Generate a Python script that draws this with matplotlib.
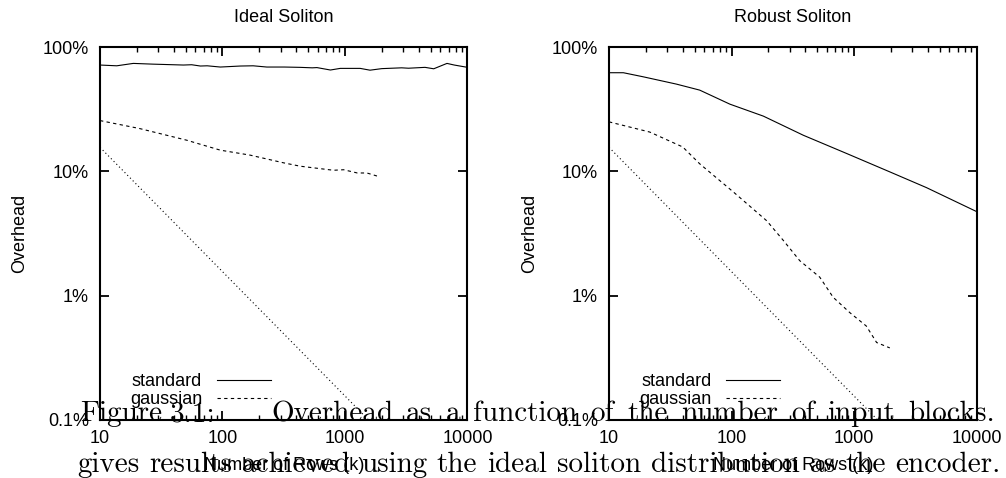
import numpy as np
import matplotlib.pyplot as plt
from matplotlib.transforms import IdentityTransform
from matplotlib.ticker import FixedLocator, LogLocator, NullFormatter

plt.rcParams['font.family'] = ['Liberation Sans', 'DejaVu Sans']

# ---- data (overhead as a fraction) ----
ideal_std_k = [10, 13.7, 18.7, 27, 36, 48, 56, 66, 75, 96, 140, 178, 230,
               320, 430, 540, 590, 760, 915, 1330, 1600, 2000, 2900,
               3300, 4500, 5300, 6800, 7800, 10000]
ideal_std_v = [0.716, 0.706, 0.738, 0.728, 0.722, 0.716, 0.720, 0.703,
               0.706, 0.690, 0.703, 0.706, 0.690, 0.690, 0.686, 0.680,
               0.683, 0.653, 0.673, 0.673, 0.651, 0.670, 0.680, 0.675,
               0.686, 0.668, 0.738, 0.716, 0.686]
ideal_gau_k = [10, 21, 31, 51, 66, 96, 168, 316, 430, 805, 975, 1260, 1510, 1870]
ideal_gau_v = [0.256, 0.221, 0.201, 0.178, 0.165, 0.148, 0.135, 0.117,
               0.110, 0.102, 0.103, 0.097, 0.097, 0.091]

robust_std_k = [10, 13.1, 19, 35.5, 55, 97, 182, 386, 873, 1960, 3900, 10000]
robust_std_v = [0.621, 0.621, 0.576, 0.503, 0.45, 0.347, 0.278, 0.195,
                0.139, 0.099, 0.074, 0.0475]
robust_gau_k = [10, 21.5, 40, 55, 104, 194, 265, 361, 525, 676, 925,
                1260, 1530, 1960]
robust_gau_v = [0.25, 0.207, 0.157, 0.115, 0.068, 0.040, 0.0278, 0.0191,
                0.0141, 0.0097, 0.0073, 0.0057, 0.0042, 0.0038]

# third (unlabelled) curve, same in both panels
bound_k = [10, 20, 50, 100, 200, 500, 1000, 2000]
bound_v = [0.156, 0.078, 0.0312, 0.0156, 0.0078, 0.00312, 0.00156, 0.00078]

panels = [
    ("Ideal Soliton", ideal_std_k, ideal_std_v, ideal_gau_k, ideal_gau_v),
    ("Robust Soliton", robust_std_k, robust_std_v, robust_gau_k, robust_gau_v),
]
y_ticks = [0.001, 0.01, 0.1, 1]
y_labels = ["0.1%", "1%", "10%", "100%"]
x_ticks = [10, 100, 1000, 10000]
x_labels = ["10", "100", "1000", "10000"]

W, H = 1006, 478
fig = plt.figure(figsize=(W / 100, H / 100), dpi=100)

# (axes left edge, x of the y-label centre) in pixels
layout = [(100, 20), (609, 530)]
for (left, ylab_x), (title, sk, sv, gk, gv) in zip(layout, panels):
    ax = fig.add_axes([left / W, 1 - 420 / H, 367.5 / W, 373 / H])
    ax.set_xscale('log')
    ax.set_yscale('log')
    l1, = ax.plot(sk, sv, color='black', lw=0.8, label='standard')
    l2, = ax.plot(gk, gv, color='black', lw=0.8, dashes=(3, 3), label='gaussian')
    ax.plot(bound_k, bound_v, color='black', lw=0.8, ls=(0, (1, 2.5)))
    ax.set_xlim(10, 10000)
    ax.set_ylim(0.001, 1)

    ax.yaxis.set_major_locator(FixedLocator(y_ticks))
    ax.set_yticklabels(y_labels)
    ax.yaxis.set_minor_locator(FixedLocator([]))
    ax.xaxis.set_major_locator(FixedLocator(x_ticks))
    ax.set_xticklabels(x_labels)
    ax.xaxis.set_minor_locator(LogLocator(base=10, subs=np.arange(2, 10)))
    ax.xaxis.set_minor_formatter(NullFormatter())

    ax.tick_params(which='both', direction='in', top=True, right=True,
                   labelsize=13)
    ax.tick_params(which='major', length=6.5, width=1.3)
    ax.tick_params(which='minor', length=3.5, width=1.0)
    ax.tick_params(axis='y', pad=8)
    ax.tick_params(axis='x', pad=7)
    for s in ax.spines.values():
        s.set_linewidth(1.5)

    ax.set_title(title, fontsize=13, y=1.078, va='center', pad=0)
    ax.set_ylabel('Overhead', fontsize=13, va='center')
    ax.yaxis.set_label_coords(-(left - ylab_x) / 367.5, 0.5)
    ax.set_xlabel('Number of Rows (k)', fontsize=13, va='center')
    ax.xaxis.set_label_coords(0.5, -45 / 373)

    ax.legend(handles=[l1, l2], loc='lower left', frameon=False,
              markerfirst=False, fontsize=13, handlelength=3.0,
              handletextpad=0.8, labelspacing=0.05, borderpad=0,
              borderaxespad=0, bbox_to_anchor=(30 / 367.5, 12 / 373))

# ---- overlapping caption text (serif, justified) ----
cap_size = 21
renderer = fig.canvas.get_renderer()


def cap_text(x, y, s):
    return fig.text(x, y, s, fontfamily='cmr10', fontsize=cap_size,
                    transform=IdentityTransform(), va='baseline', zorder=10)


def justify(words, x0, x1, y):
    arts = [cap_text(0, y, w) for w in words]
    widths = [a.get_window_extent(renderer).width for a in arts]
    gap = (x1 - x0 - sum(widths)) / (len(words) - 1)
    x = x0
    for a, w in zip(arts, widths):
        a.set_x(x)
        x += w + gap


line1_y = H - 421
cap_text(80, line1_y, "Figure")
cap_text(170, line1_y, "3.1:")
justify("Overhead as a function of the number of input blocks.".split(),
        271, 995, line1_y)
justify("gives results achieved using the ideal soliton distribution as the encoder.".split(),
        77, 1001, H - 472)

fig.savefig('out.png', dpi=100)
